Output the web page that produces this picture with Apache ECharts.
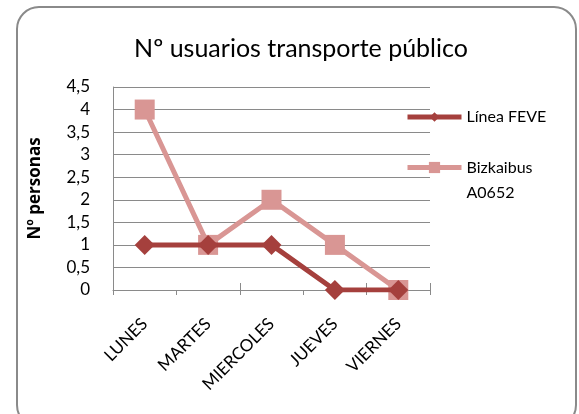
<!DOCTYPE html>
<html>
<head>
<meta charset="utf-8">
<script src="https://cdn.jsdelivr.net/npm/echarts@6/dist/echarts.min.js"></script>
<style>
  html, body { margin: 0; padding: 0; background: #fff; }
  #chart { width: 579px; height: 414px; }
</style>
</head>
<body>
<div id="chart"></div>
<script>
// datos del gráfico
const dias = ['LUNES', 'MARTES', 'MIERCOLES', 'JUEVES', 'VIERNES'];
const lineaFeve = [1, 1, 1, 0, 0];
const bizkaibus = [4, 1, 2, 1, 0];
const serieNames = ['Línea FEVE', 'Bizkaibus A0652'];

const FONT = 'Lato, "Open Sans", sans-serif';
const DARK = '#A5403D';
const PINK = '#D99694';

const chart = echarts.init(document.getElementById('chart'), null, { renderer: 'canvas' });

const option = {
    animation: false,
    backgroundColor: '#fff',
    graphic: [{
        type: 'rect',
        shape: { x: 17, y: 7, width: 559, height: 420, r: 22 },
        style: { fill: 'none', stroke: '#8a8a8a', lineWidth: 2 },
        silent: true
    }],
    title: {
        text: 'Nº usuarios transporte público',
        left: 296,
        textAlign: 'center',
        top: 31,
        textStyle: { fontFamily: FONT, fontSize: 25, fontWeight: 'normal', color: '#000' }
    },
    legend: [{
        data: [serieNames[0]],
        left: 400,
        top: 104,
        itemWidth: 54,
        itemHeight: 12,
        lineStyle: { width: 5 },
        textStyle: { fontFamily: FONT, fontSize: 16, color: '#000' }
    }, {
        data: [serieNames[1]],
        // la primera línea vacía deja el icono a la altura de "Bizkaibus"
        formatter: (name) => '\n' + name.replace(' ', '\n'),
        left: 400,
        top: 125,
        itemWidth: 54,
        itemHeight: 14,
        lineStyle: { width: 5 },
        textStyle: { fontFamily: FONT, fontSize: 16, color: '#000', lineHeight: 25 }
    }],
    grid: { left: 113, right: 149, top: 87, bottom: 124 },
    xAxis: [{
        type: 'category',
        data: dias,
        boundaryGap: true,
        axisLine: { lineStyle: { color: '#8a8a8a', width: 1 } },
        axisTick: { show: true, inside: false, length: 5, lineStyle: { color: '#8a8a8a' } },
        axisLabel: {
            rotate: 45, margin: 31, interval: 0,
            fontFamily: FONT, fontSize: 17, color: '#000'
        }
    }, {
        type: 'category',
        data: dias,
        position: 'bottom',
        boundaryGap: true,
        axisLine: { show: false },
        axisTick: { show: true, inside: true, length: 7, lineStyle: { color: '#8a8a8a' } },
        axisLabel: { show: false }
    }],
    yAxis: {
        type: 'value',
        min: 0,
        max: 4.5,
        interval: 0.5,
        name: 'Nº personas',
        nameLocation: 'middle',
        nameGap: 69,
        nameRotate: 90,
        nameTextStyle: { fontFamily: '"Open Sans", sans-serif', fontSize: 17, fontWeight: 'bold', color: '#000' },
        axisLine: { show: true, lineStyle: { color: '#8a8a8a' } },
        axisTick: { show: false },
        splitLine: { lineStyle: { color: '#8a8a8a', width: 1 } },
        axisLabel: {
            margin: 23,
            fontFamily: FONT, fontSize: 17, color: '#000',
            formatter: (v) => String(v).replace('.', ',')
        }
    },
    series: [{
        name: serieNames[0],
        type: 'line',
        data: lineaFeve,
        symbol: 'diamond',
        symbolSize: 20,
        color: DARK,
        lineStyle: { width: 5, color: DARK },
        itemStyle: { color: DARK },
        z: 3
    }, {
        name: serieNames[1],
        type: 'line',
        data: bizkaibus,
        symbol: 'rect',
        symbolSize: 20,
        color: PINK,
        lineStyle: { width: 5, color: PINK },
        itemStyle: { color: PINK },
        z: 2
    }]
};

chart.setOption(option);
</script>
</body>
</html>
